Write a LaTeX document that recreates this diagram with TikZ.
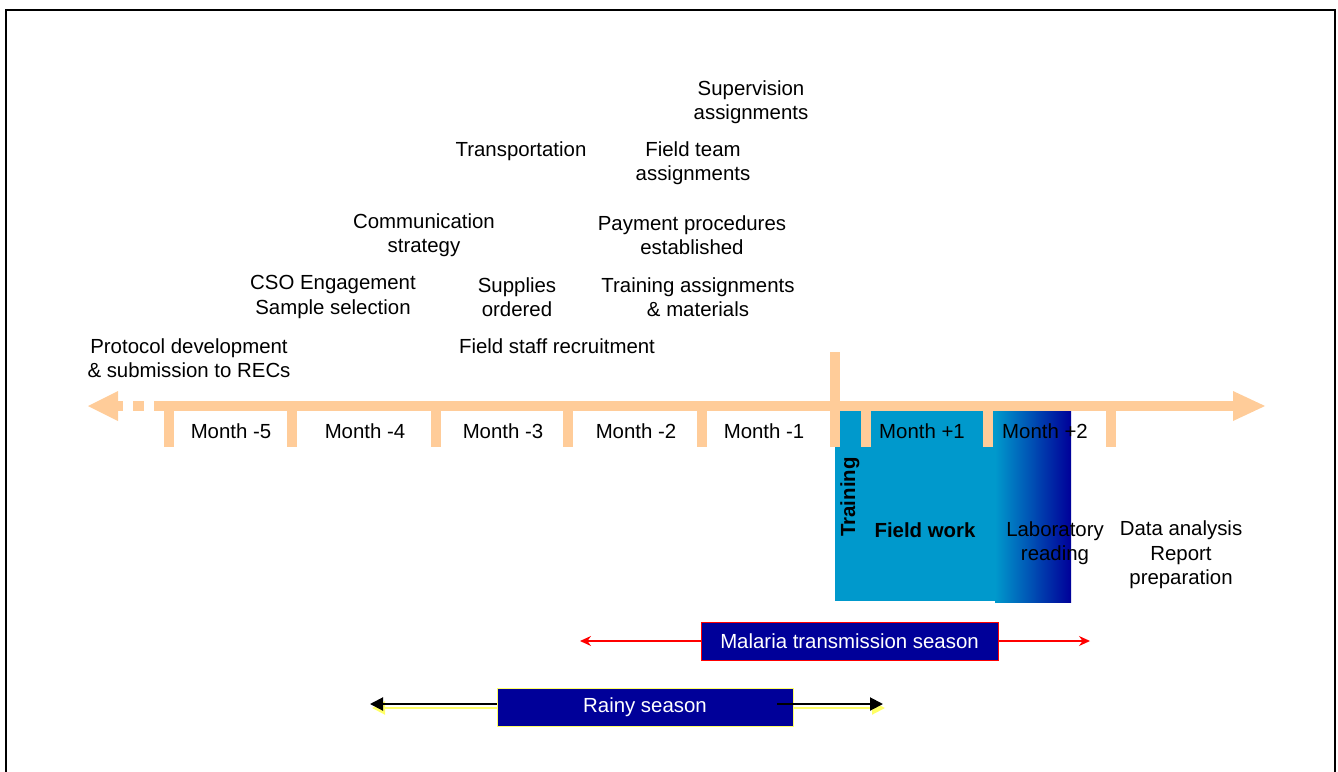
\documentclass[tikz,border=0pt]{standalone}
\usepackage{fontspec}
\setmainfont{Liberation Sans}
\usetikzlibrary{arrows.meta}
\definecolor{peach}{RGB}{255,204,153}
\definecolor{fieldblue}{RGB}{0,153,204}
\definecolor{navy}{RGB}{0,0,153}
\definecolor{shadowyellow}{RGB}{255,255,102}
\begin{document}
\begin{tikzpicture}[x=1pt,y=-1pt,
  every node/.style={font=\fontsize{20.4}{24.4}\selectfont, inner sep=0pt, align=center},
  axisfill/.style={fill=peach, draw=none},
  tickbar/.style={fill=peach, draw=none},
  seasonbox/.style={fill=navy, text=white, minimum height=38pt, inner sep=0pt},
  redarrow/.style={draw=red, line width=1.3pt, -{Stealth[length=11pt,width=10pt]}},
  blackarrow/.style={draw=black, line width=2pt, -{Triangle[length=13pt,width=13pt]}},
  yellowarrow/.style={draw=shadowyellow, line width=2pt, -{Triangle[length=13pt,width=13pt]}}]
\useasboundingbox (0,0) rectangle (1338,771);
\begin{scope}
\clip (0,0) rectangle (1338,771);
\draw[line width=2pt] (6,10) rectangle (1335,800);
\end{scope}

% blue activity block
\fill[fieldblue] (835,411) rectangle (996,601);
\shade[left color=fieldblue, right color=navy] (995,411) rectangle (1071,602);

% timeline axis
\fill[axisfill] (154,401) rectangle (1234,411);
\fill[axisfill] (1233,391) -- (1265,406) -- (1233,421) -- cycle;
\fill[axisfill] (88,406) -- (118,391) -- (118,421) -- cycle;
\fill[axisfill] (117,401) rectangle (123,411);
\fill[axisfill] (133,401) rectangle (144,411);
\foreach \c in {169,292,436,568,702,866,988,1111}
  \fill[tickbar] (\c-5,411) rectangle (\c+5,447);
\fill[tickbar] (830,352) rectangle (840,447);

% month labels
\node (m5) at (231,431) {Month -5};
\node (m4) at (365,431) {Month -4};
\node (m3) at (503,431) {Month -3};
\node (m2) at (636,431) {Month -2};
\node (m1) at (764,431) {Month -1};
\node (p1) at (922,431) {Month +1};
\node (p2) at (1045,431) {Month +2};

% preparation activities
\node (proto) at (189,358) {Protocol development\\\& submission to RECs};
\node (cso) at (333,297) {CSO Engagement\\Sample selection};
\node (comm) at (424,235) {Communication\\strategy};
\node (transp) at (521,151) {Transportation};
\node (supp) at (517,297) {Supplies\\ordered};
\node (fsr) at (557,346) {Field staff recruitment};
\node (superv) at (751,102) {Supervision\\assignments};
\node (fta) at (693,163) {Field team\\assignments};
\node (pay) at (692,235) {Payment procedures\\established};
\node (tra) at (698,297) {Training assignments\\\& materials};

% field phase
\node[rotate=90, font=\fontsize{20.4}{24.4}\selectfont\bfseries] (train) at (850,497) {Training};
\node[font=\fontsize{20.4}{24.4}\selectfont\bfseries] (fw) at (925,530) {Field work};
\node (lab) at (1055,543) {Laboratory\\reading};
\node (data) at (1181,555) {Data analysis\\Report\\preparation};

% malaria season
\coordinate (mL) at (580,641);
\coordinate (mR) at (1090,641);
\node[seasonbox, draw=red, line width=1pt, minimum width=297pt] (mal) at (849.5,641) {Malaria transmission season};
\draw[redarrow] (mal.west) -- (mL);
\draw[redarrow] (mal.east) -- (mR);

% rainy season
\coordinate (rL) at (370,704);
\coordinate (rR) at (883,704);
\coordinate (rLs) at (372,708);
\coordinate (rRs) at (885,708);
\coordinate (rS) at (777,704);
\coordinate (rSs) at (779,708);
\draw[yellowarrow] (rSs) -- (rRs);
\draw[yellowarrow] (rSs) -- (rLs);
\draw[blackarrow] (rS) -- (rL);
\node[seasonbox, draw=shadowyellow, line width=1pt, minimum width=296pt] (rain) at (645,707.5) {Rainy season};
\draw[blackarrow] (rS) -- (rR);
\end{tikzpicture}
\end{document}
